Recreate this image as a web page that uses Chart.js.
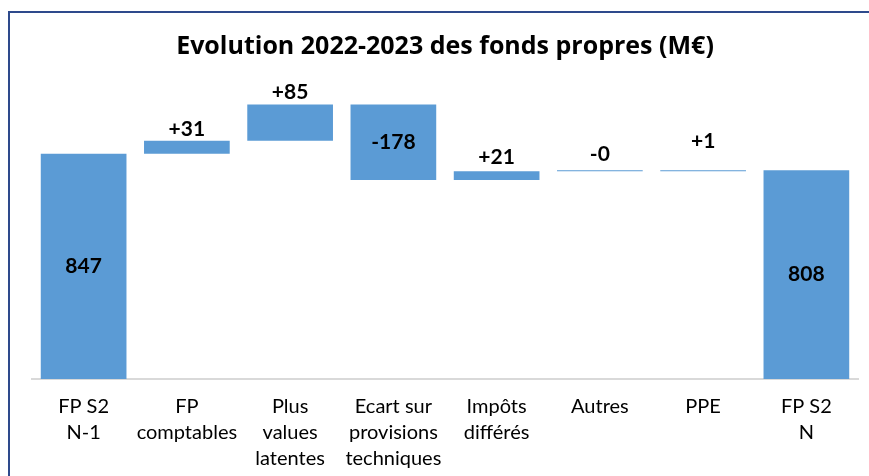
<!DOCTYPE html>
<html>
<head>
<meta charset="utf-8">
<script src="https://cdn.jsdelivr.net/npm/chart.js@4"></script>
<style>
  body { margin: 0; background: #fff; }
  #wrap { position: relative; width: 869px; height: 476px; overflow: hidden; }
  #frame { position: absolute; left: 8px; top: 11px; width: 900px; height: 500px; border: 2px solid #2E4A8C; }
  canvas { position: absolute; left: 0; top: 0; }
</style>
</head>
<body>
<div id="wrap">
  <div id="frame"></div>
  <canvas id="fondsChart" width="869" height="476"></canvas>
</div>
<script>
// Waterfall: opening equity, movements, closing equity (M€)
const categories = [
    ['FP S2', 'N-1'],
    ['FP', 'comptables'],
    ['Plus', 'values', 'latentes'],
    ['Ecart sur', 'provisions', 'techniques'],
    ['Impôts', 'différés'],
    'Autres',
    'PPE',
    ['FP S2', 'N']
];
const openingTotal = 847;
const movements = [31, 85, -178, 21, -0.3, 1];
const closingTotal = 808;
const valueLabels = ['847', '+31', '+85', '-178', '+21', '-0', '+1', '808'];

// floating bars [from, to] for the waterfall
const bars = [[0, openingTotal]];
let running = openingTotal;
movements.forEach(m => {
    bars.push([running, running + m]);
    running += m;
});
bars.push([0, closingTotal]);

// draws the value labels (inside totals / big drop, above the rest)
const barLabels = {
    id: 'barLabels',
    afterDatasetsDraw(chart, args, opts) {
        const ctx = chart.ctx;
        const meta = chart.getDatasetMeta(0);
        ctx.save();
        ctx.font = 'bold 21px Lato';
        ctx.fillStyle = '#000';
        ctx.textAlign = 'center';
        ctx.textBaseline = 'middle';
        meta.data.forEach((bar, i) => {
            const top = Math.min(bar.y, bar.base);
            const bottom = Math.min(Math.max(bar.y, bar.base), chart.chartArea.bottom);
            let y;
            if (opts.inside[i]) {
                y = (top + bottom) / 2;
            } else {
                y = top - opts.lift[i];
            }
            ctx.fillText(valueLabels[i], bar.x, y);
        });
        ctx.restore();
    }
};

const ctx = document.getElementById('fondsChart').getContext('2d');
new Chart(ctx, {
    type: 'bar',
    data: {
        labels: categories,
        datasets: [{
            data: bars,
            backgroundColor: '#5B9BD5',
            borderWidth: 0,
            borderSkipped: false,
            minBarLength: 1,
            barPercentage: 0.83,
            categoryPercentage: 1.0
        }]
    },
    options: {
        responsive: false,
        animation: false,
        layout: { padding: { left: 32, right: 11, top: 0, bottom: 8 } },
        scales: {
            x: {
                grid: { display: false, drawTicks: false },
                border: { display: true, color: '#D9D9D9', width: 2 },
                ticks: {
                    color: '#000',
                    font: { family: 'Lato', size: 20, lineHeight: 1.3 },
                    padding: 15,
                    maxRotation: 0,
                    autoSkip: false
                },
                afterFit(scale) { scale.height = 476 - 379 - 8; }
            },
            y: {
                display: false,
                min: 316,
                max: 1021
            }
        },
        plugins: {
            legend: { display: false },
            tooltip: { enabled: false },
            title: {
                display: true,
                text: 'Evolution 2022-2023 des fonds propres (M€)',
                color: '#000',
                font: { family: 'Open Sans', size: 25, weight: 'bold', lineHeight: 1.2 },
                padding: { top: 32, bottom: 18 }
            },
            barLabels: {
                inside: [true, false, false, true, false, false, false, true],
                lift: [0, 11, 12, 0, 14, 16, 29, 0]
            }
        }
    },
    plugins: [barLabels]
});
</script>
</body>
</html>
